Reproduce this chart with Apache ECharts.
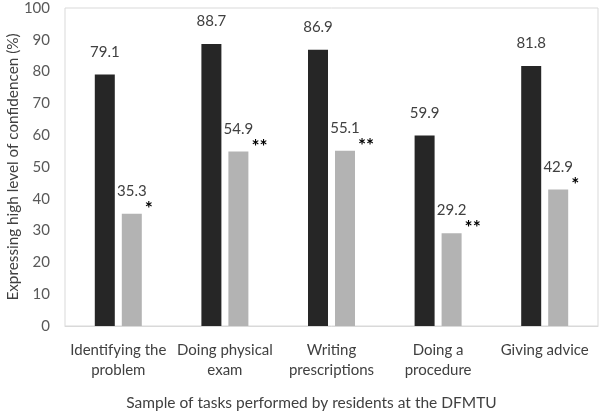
<!DOCTYPE html>
<html><head><meta charset="utf-8">
<script src="https://cdn.jsdelivr.net/npm/echarts@6/dist/echarts.min.js"></script>
<style>html,body{margin:0;padding:0;background:#fff}#c{width:599px;height:414px}</style>
</head><body><div id="c"></div>
<script>
var categories = ['Identifying the\nproblem', 'Doing physical\nexam', 'Writing\nprescriptions', 'Doing a\nprocedure', 'Giving advice'];
var seriesA = [79.1, 88.7, 86.9, 59.9, 81.8];
var seriesB = [35.3, 54.9, 55.1, 29.2, 42.9];
var marks = ['*', '**', '**', '**', '*'];
var markBase = [0, 0, 0, 0, 0];
var yTicks = {min: 0, max: 100, interval: 10};

var font = 'Lato';
var chart = echarts.init(document.getElementById('c'));
chart.setOption({
  animation: false,
  textStyle: {fontFamily: font},
  grid: {left: 65, right: 1, top: 8, bottom: 88, show: true, borderColor: '#d9d9d9', borderWidth: 1, outerBoundsMode: 'none', containLabel: false},
  xAxis: {
    type: 'category', data: categories,
    axisLine: {lineStyle: {color: '#d9d9d9'}}, axisTick: {show: false},
    axisLabel: {color: '#404040', fontSize: 15, lineHeight: 20, margin: 14, interval: 0},
    name: 'Sample of tasks performed by residents at the DFMTU', nameLocation: 'middle', nameGap: 69, nameMoveOverlap: false,
    nameTextStyle: {color: '#404040', fontSize: 15.5, padding: [0, 40, 0, 0]}
  },
  yAxis: {
    type: 'value', min: yTicks.min, max: yTicks.max, interval: yTicks.interval,
    splitLine: {show: false}, axisLine: {show: false}, axisTick: {show: false},
    axisLabel: {color: '#595959', fontSize: 15, margin: 15},
    name: 'Expressing high level of confidencen (%)', nameLocation: 'middle', nameGap: 44, nameMoveOverlap: false,
    nameTextStyle: {color: '#404040', fontSize: 15.3}
  },
  series: [
    {type: 'bar', data: seriesA, barWidth: 20, barGap: '35%', itemStyle: {color: '#262626'},
     label: {show: true, position: 'top', distance: 15, color: '#404040', fontSize: 15}},
    {type: 'bar', data: seriesB, stack: 'g', barWidth: 20, barGap: '35%', itemStyle: {color: '#b3b3b3'},
     label: {show: true, position: 'top', distance: 15, color: '#404040', fontSize: 15}},
    {type: 'bar', data: markBase, stack: 'g', barWidth: 20, barGap: '35%', itemStyle: {color: 'rgba(0,0,0,0)'}, silent: true,
     label: {show: true, position: 'right', offset: [-2, -5], color: '#000', fontSize: 19, fontWeight: 'bold',
       formatter: function(p){ return marks[p.dataIndex]; }}}
  ]
});
</script></body></html>
